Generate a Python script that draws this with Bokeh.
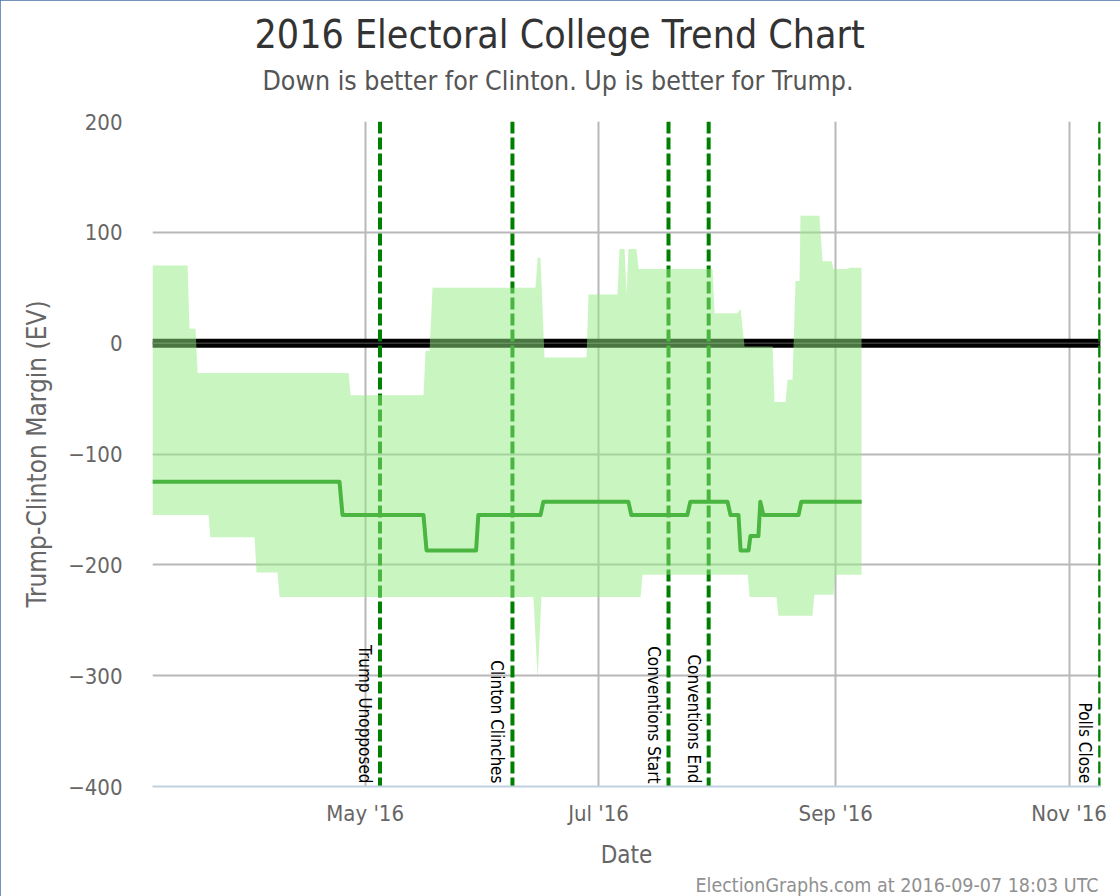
import numpy as np
import pandas as pd
from bokeh.plotting import figure
from bokeh.models import Range1d, FixedTicker, Span, Title
from bokeh.core.properties import value
from bokeh.embed import file_html
from bokeh.resources import INLINE

FONT = "DejaVu Sans Condensed"

title_text = "2016 Electoral College Trend Chart"
subtitle_text = "Down is better for Clinton. Up is better for Trump."
credit_text = "ElectionGraphs.com at 2016-09-07 18:03 UTC"
y_axis_title = "Trump-Clinton Margin (EV)"
x_axis_title = "Date"

# Upper edge of the range band (best case for Trump)
upper_dates = ["2016-03-06 10:00", "2016-03-15 14:00", "2016-03-16 02:00", "2016-03-17 16:00",
               "2016-03-18 05:00", "2016-04-26 16:00", "2016-04-27 05:00", "2016-05-16 06:00",
               "2016-05-16 19:00", "2016-05-17 20:00", "2016-05-18 15:00", "2016-06-14 13:00",
               "2016-06-15 02:00", "2016-06-15 20:00", "2016-06-16 21:00", "2016-06-27 21:00",
               "2016-06-28 09:00", "2016-07-05 23:00", "2016-07-06 12:00", "2016-07-07 19:00",
               "2016-07-08 08:00", "2016-07-08 20:00", "2016-07-10 22:00", "2016-07-11 11:00",
               "2016-07-30 19:00", "2016-07-31 08:00", "2016-08-06 08:00", "2016-08-07 03:00",
               "2016-08-08 04:00", "2016-08-15 12:00", "2016-08-16 00:00", "2016-08-18 21:00",
               "2016-08-19 10:00", "2016-08-20 17:00", "2016-08-21 12:00", "2016-08-22 13:00",
               "2016-08-22 19:00", "2016-08-27 18:00", "2016-08-28 13:00", "2016-08-30 22:00",
               "2016-08-31 10:00", "2016-09-04 02:00", "2016-09-04 14:00", "2016-09-07 18:00"]
upper_values = [70, 70, 13, 13, -27, -27, -47, -47, -7, -7, 50, 50, 77, 77, -13, -13,
                44, 44, 85, 85, 44, 85, 85, 67, 67, 27, 27, 31, -3, -3, -53, -53,
                -33, -33, 56, 56, 115, 115, 74, 74, 67, 67, 68, 68]

# Lower edge of the range band (best case for Clinton)
lower_dates = ["2016-03-06 10:00", "2016-03-21 02:00", "2016-03-21 12:00", "2016-04-02 02:00",
               "2016-04-02 15:00", "2016-04-08 02:00", "2016-04-08 15:00", "2016-06-14 00:00",
               "2016-06-15 02:00", "2016-06-16 02:00", "2016-07-12 00:00", "2016-07-12 12:00",
               "2016-08-09 00:00", "2016-08-09 12:00", "2016-08-16 12:00", "2016-08-17 01:00",
               "2016-08-25 22:00", "2016-08-26 10:00", "2016-08-31 10:00", "2016-08-31 22:00",
               "2016-09-07 18:00"]
lower_values = [-155, -155, -175, -175, -207, -207, -229, -229, -303, -229, -229, -209,
                -209, -229, -229, -246, -246, -227, -227, -209, -209]

# Expected (median) margin
median_dates = ["2016-03-06 10:00", "2016-04-24 07:00", "2016-04-25 02:00", "2016-05-16 06:00",
                "2016-05-17 01:00", "2016-05-30 00:00", "2016-05-30 14:00", "2016-06-15 20:00",
                "2016-06-16 14:00", "2016-07-08 19:00", "2016-07-09 14:00", "2016-07-24 05:00",
                "2016-07-25 00:00", "2016-08-03 17:00", "2016-08-04 12:00", "2016-08-06 14:00",
                "2016-08-07 03:00", "2016-08-09 05:00", "2016-08-09 17:00", "2016-08-11 19:00",
                "2016-08-12 07:00", "2016-08-13 02:00", "2016-08-22 07:00", "2016-08-23 00:00",
                "2016-09-07 18:00"]
median_values = [-125, -125, -155, -155, -187, -187, -155, -155, -143, -143, -155, -155,
                 -143, -143, -155, -155, -187, -187, -174, -174, -143, -155, -155, -143, -143]

event_dates = ["2016-05-04 21:00", "2016-06-08 12:00", "2016-07-19 07:00",
               "2016-07-29 19:00", "2016-11-09 03:00"]
event_names = ["Trump Unopposed", "Clinton Clinches", "Conventions Start",
               "Conventions End", "Polls Close"]

x_tick_dates = ["2016-05-01", "2016-07-01", "2016-09-01", "2016-11-01"]
x_tick_labels = ["May '16", "Jul '16", "Sep '16", "Nov '16"]
y_ticks = [-400, -300, -200, -100, 0, 100, 200]
y_tick_labels = ["\u2212400", "\u2212300", "\u2212200", "\u2212100", "0", "100", "200"]

x_start = "2016-03-06 10:00"
x_end = "2016-11-09 05:00"
y_min, y_max = -400, 200


def ts(lst):
    return pd.to_datetime(lst).values


def ms(s):
    return pd.Timestamp(s).value / 1e6


p = figure(width=1120, height=896, x_axis_type="datetime",
           x_range=Range1d(pd.Timestamp(x_start), pd.Timestamp(x_end)),
           y_range=Range1d(y_min, y_max),
           output_backend="svg", toolbar_location=None, title=None,
           min_border_left=152, min_border_right=20, min_border_top=121, min_border_bottom=109)
p.outline_line_color = None
p.background_fill_color = "white"
p.border_fill_color = "white"
p.styles = {"outline": "2px solid #4572a7", "outline-offset": "-2px"}

# titles
sub = Title(text=subtitle_text, align="left", text_font=FONT, text_font_size="26.5px",
            text_font_style="normal", text_color="#555555", offset=110, standoff=52)
main = Title(text=title_text, align="left", text_font=FONT, text_font_size="39px",
             text_font_style="normal", text_color="#333333", offset=102, standoff=-40)
p.add_layout(sub, "above")
p.add_layout(main, "above")

# axes
x_tick_ms = [ms(d) for d in x_tick_dates]
p.xaxis.ticker = FixedTicker(ticks=x_tick_ms)
p.xaxis.major_label_overrides = dict(zip(x_tick_ms, x_tick_labels))
p.xgrid.ticker = FixedTicker(ticks=x_tick_ms)
p.yaxis.ticker = FixedTicker(ticks=y_ticks)
p.yaxis.major_label_overrides = dict(zip(y_ticks, y_tick_labels))
p.ygrid.ticker = FixedTicker(ticks=y_ticks)

for ax in (p.xaxis, p.yaxis):
    ax.major_tick_line_color = None
    ax.minor_tick_line_color = None
    ax.major_tick_out = 0
    ax.major_tick_in = 0
    ax.major_label_text_font = FONT
    ax.major_label_text_font_size = "22px"
    ax.major_label_text_color = "#666666"
    ax.axis_label_text_font = FONT
    ax.axis_label_text_font_style = "normal"
    ax.axis_label_text_color = "#666666"

p.xaxis.axis_label_text_font_size = "24px"
p.yaxis.axis_label_text_font_size = "26px"
p.xaxis.axis_label = x_axis_title
p.yaxis.axis_label = y_axis_title
p.xaxis.axis_line_color = "#c0d0e0"
p.xaxis.axis_line_width = 2
p.yaxis.axis_line_color = None
p.xaxis.major_label_standoff = 14
p.xaxis.axis_label_standoff = 12
p.yaxis.major_label_standoff = 30
p.yaxis.axis_label_standoff = 13

for g in (p.xgrid, p.ygrid):
    g.grid_line_color = "#b8b8b8"
    g.grid_line_width = 2

# zero line
p.add_layout(Span(location=0, dimension="width", line_color="black", line_width=9, level="underlay"))
p.add_layout(Span(location=0, dimension="width", line_color="#555555", line_width=1, level="underlay"))

# event lines
for d in event_dates:
    p.add_layout(Span(location=pd.Timestamp(d), dimension="height", line_color="#008000",
                      line_width=4, line_dash="12 4", level="underlay"))

# median line (drawn under the translucent band)
p.line(ts(median_dates), median_values, line_color="#008000", line_width=4,
       line_join="round", line_cap="butt")

# band
band_x = np.concatenate([ts(upper_dates), ts(lower_dates)[::-1]])
band_y = upper_values + lower_values[::-1]
p.patch(band_x, band_y, fill_color=(147, 235, 129), fill_alpha=0.5, line_color=None)

# event labels
p.text(x=ts(event_dates), y=[y_min] * len(event_dates), text=event_names,
       angle=-np.pi / 2, text_align="right", text_baseline="top",
       x_offset=-5, y_offset=-3, text_font=value(FONT), text_font_size="17px",
       text_color="black")

# credits
credit = Title(text=credit_text, align="right", text_font=FONT, text_font_size="19.5px",
               text_font_style="normal", text_color="#909090", offset=2, standoff=0)
p.add_layout(credit, "below")

open("out.html", "w").write(file_html(p, INLINE))
